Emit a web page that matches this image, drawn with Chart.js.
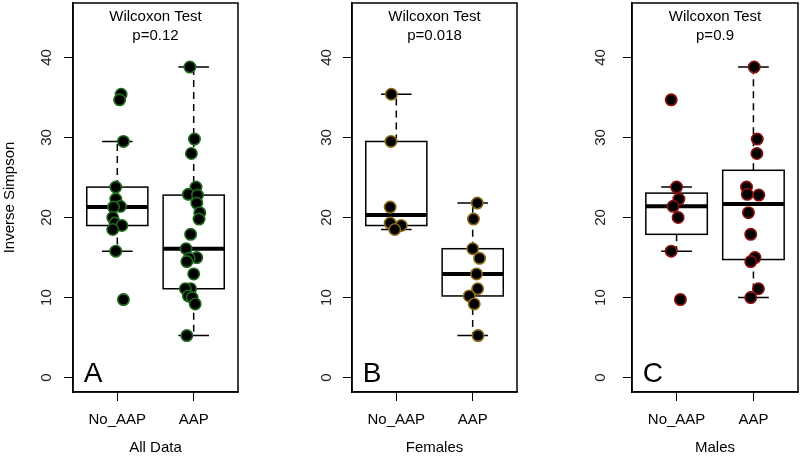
<!DOCTYPE html>
<html>
<head>
<meta charset="utf-8">
<script src="https://cdn.jsdelivr.net/npm/chart.js@4"></script>
<style>
  body { margin: 0; background: #fff; }
  #wrap { position: relative; width: 800px; height: 464px; }
  .panel { position: absolute; top: 0; height: 464px; }
</style>
</head>
<body>
<div id="wrap">
  <div class="panel" style="left:0;width:270px"><canvas id="chartA"></canvas></div>
  <div class="panel" style="left:270px;width:270px"><canvas id="chartB"></canvas></div>
  <div class="panel" style="left:540px;width:260px"><canvas id="chartC"></canvas></div>
</div>
<script>
'use strict';

// categories and labels
const groups = ['No_AAP', 'AAP'];
const panelNames = ['All Data', 'Females', 'Males'];
const panelLetters = ['A', 'B', 'C'];
const pValues = ['p=0.12', 'p=0.018', 'p=0.9'];
const yTicks = [0, 10, 20, 30, 40];

// Inverse Simpson values
const femalesNoAAP = [35.4, 29.5, 21.3, 19.3, 19.0, 18.5];
const femalesAAP = [21.8, 19.8, 16.1, 14.9, 12.95, 11.1, 10.2, 9.2, 5.25];
const malesNoAAP = [34.7, 23.8, 22.3, 21.4, 20.0, 15.8, 9.75];
const malesAAP = [38.8, 29.8, 28.0, 23.8, 22.9, 22.8, 20.6, 17.9, 15.0, 14.5, 11.1, 10.0];
const allNoAAP = [35.4, 34.7, 29.5, 23.8, 22.3, 21.4, 21.3, 20.0, 19.3, 19.0, 18.5, 15.8, 9.75];
const allAAP = [38.8, 29.8, 28.0, 23.8, 22.9, 22.8, 21.8, 20.6, 19.8, 17.9, 16.1, 15.0, 14.9, 14.5, 12.95, 11.1, 11.1, 10.2, 10.0, 9.2, 5.25];

// stripchart jitter (category units), same order as the values
const allNoAAPJitter = [0.05, 0.03, 0.08, -0.02, -0.02, 0.04, -0.05, -0.06, -0.03, 0.06, -0.06, -0.02, 0.08];
const allAAPJitter = [-0.05, 0.01, -0.03, 0.03, -0.07, 0.05, 0.04, 0.08, 0.07, -0.04, -0.1, 0.04, -0.06, -0.09, 0, -0.04, -0.11, -0.07, -0.02, 0.02, -0.09];
const femalesNoAAPJitter = [-0.065, -0.07, -0.08, -0.08, 0.065, -0.02];
const femalesAAPJitter = [0.06, 0.01, 0, 0.09, 0.05, 0.065, -0.045, 0.02, 0.07];
const malesNoAAPJitter = [-0.07, 0, 0.03, -0.045, 0.02, -0.07, 0.05];
const malesAAPJitter = [0.01, 0.05, 0.045, -0.09, -0.08, 0.07, -0.065, -0.035, 0.02, -0.035, 0.065, -0.035];

const FONT = '"Liberation Sans", Arial, Helvetica, sans-serif';

// R style fivenum + Tukey whiskers
function boxStats(values) {
    const s = [...values].sort((a, b) => a - b);
    const n = s.length;
    const n4 = Math.floor((n + 3) / 2) / 2;
    const d = [1, n4, (n + 1) / 2, n + 1 - n4, n];
    const f = d.map(v => 0.5 * (s[Math.floor(v) - 1] + s[Math.ceil(v) - 1]));
    const iqr = f[3] - f[1];
    const inside = s.filter(v => v >= f[1] - 1.5 * iqr && v <= f[3] + 1.5 * iqr);
    return { lo: inside[0], q1: f[1], med: f[2], q3: f[3], hi: inside[inside.length - 1] };
}

const boxPlugin = {
    id: 'boxes',
    beforeDatasetsDraw(chart, args, opts) {
        const ctx = chart.ctx;
        const x = chart.scales.x, y = chart.scales.y;
        const area = chart.chartArea;
        ctx.save();
        ctx.strokeStyle = '#000';
        opts.groups.forEach((vals, i) => {
            const st = boxStats(vals);
            const cx = x.getPixelForValue(i + 1);
            const half = x.getPixelForValue(i + 1.4) - cx;
            const cap = x.getPixelForValue(i + 1.2) - cx;
            // whiskers
            ctx.lineWidth = 1.5;
            ctx.setLineDash([7, 5]);
            ctx.beginPath();
            ctx.moveTo(cx, y.getPixelForValue(st.q3));
            ctx.lineTo(cx, y.getPixelForValue(st.hi));
            ctx.moveTo(cx, y.getPixelForValue(st.q1));
            ctx.lineTo(cx, y.getPixelForValue(st.lo));
            ctx.stroke();
            ctx.setLineDash([]);
            ctx.beginPath();
            ctx.moveTo(cx - cap, y.getPixelForValue(st.hi));
            ctx.lineTo(cx + cap, y.getPixelForValue(st.hi));
            ctx.moveTo(cx - cap, y.getPixelForValue(st.lo));
            ctx.lineTo(cx + cap, y.getPixelForValue(st.lo));
            ctx.stroke();
            // box
            const top = y.getPixelForValue(st.q3), bot = y.getPixelForValue(st.q1);
            ctx.fillStyle = '#fff';
            ctx.fillRect(cx - half, top, 2 * half, bot - top);
            ctx.strokeRect(cx - half, top, 2 * half, bot - top);
            // median
            ctx.lineWidth = 4;
            ctx.beginPath();
            ctx.moveTo(cx - half, y.getPixelForValue(st.med));
            ctx.lineTo(cx + half, y.getPixelForValue(st.med));
            ctx.stroke();
        });
        // frame
        ctx.lineWidth = 1.5;
        ctx.strokeRect(area.left, area.top, area.right - area.left, area.bottom - area.top);
        // texts
        ctx.fillStyle = '#000';
        ctx.textAlign = 'center';
        ctx.textBaseline = 'middle';
        ctx.font = '15px ' + FONT;
        const mid = (area.left + area.right) / 2;
        ctx.fillText('Wilcoxon Test', mid, y.getPixelForValue(45.1));
        ctx.fillText(opts.pValue, mid, y.getPixelForValue(42.7));
        ctx.textAlign = 'left';
        ctx.textBaseline = 'alphabetic';
        ctx.font = '28px ' + FONT;
        ctx.fillText(opts.letter, x.getPixelForValue(0.56), y.getPixelForValue(-0.6));
        ctx.restore();
    }
};

function makePanel(canvasId, idx, noAAP, noAAPJit, aap, aapJit, color, yWidth, rightPad, tickPad) {
    const toPoints = (vals, jit, g) => vals.map((v, i) => ({ x: g + jit[i], y: v }));
    const pointStyle = {
        pointRadius: 5.7,
        pointHoverRadius: 5.7,
        pointBackgroundColor: '#000',
        pointBorderColor: color,
        pointBorderWidth: 1.6,
        showLine: false
    };
    const config = {
        type: 'scatter',
        data: {
            datasets: [
                Object.assign({ label: groups[0], data: toPoints(noAAP, noAAPJit, 1) }, pointStyle),
                Object.assign({ label: groups[1], data: toPoints(aap, aapJit, 2) }, pointStyle)
            ]
        },
        options: {
            responsive: true,
            maintainAspectRatio: false,
            animation: false,
            events: [],
            layout: { autoPadding: false, padding: { top: 3, right: rightPad, bottom: 0, left: 0 } },
            plugins: {
                legend: { display: false },
                tooltip: { enabled: false },
                boxes: { groups: [noAAP, aap], pValue: pValues[idx], letter: panelLetters[idx] }
            },
            scales: {
                x: {
                    type: 'linear',
                    min: 0.42,
                    max: 2.58,
                    afterBuildTicks: s => { s.ticks = [{ value: 1 }, { value: 2 }]; },
                    afterFit: s => { s.height = 72; s.paddingLeft = 0; s.paddingRight = 0; },
                    grid: { drawOnChartArea: false, drawTicks: true, tickLength: 9, color: '#000', lineWidth: 1 },
                    border: { display: true, color: '#000', width: 1.5 },
                    ticks: {
                        callback: v => groups[v - 1],
                        color: '#000',
                        padding: 10,
                        maxRotation: 0,
                        font: { family: FONT, size: 15 }
                    },
                    title: {
                        display: true,
                        text: panelNames[idx],
                        color: '#000',
                        padding: { top: 0, bottom: 7.5 },
                        font: { family: FONT, size: 15 }
                    }
                },
                y: {
                    min: -1.8,
                    max: 46.8,
                    afterBuildTicks: s => { s.ticks = yTicks.map(v => ({ value: v })); },
                    afterFit: s => { s.width = yWidth; s.paddingTop = 0; s.paddingBottom = 0; },
                    grid: { drawOnChartArea: false, drawTicks: true, tickLength: 9, color: '#000', lineWidth: 1 },
                    border: { display: true, color: '#000', width: 1.5 },
                    ticks: {
                        color: '#222',
                        minRotation: 90,
                        maxRotation: 90,
                        crossAlign: 'center',
                        padding: tickPad,
                        font: { family: FONT, size: 15 }
                    },
                    title: {
                        display: idx === 0,
                        text: 'Inverse Simpson',
                        color: '#000',
                        padding: { top: 1, bottom: 0 },
                        font: { family: FONT, size: 15 }
                    }
                }
            }
        },
        plugins: [boxPlugin]
    };
    return new Chart(document.getElementById(canvasId), config);
}

makePanel('chartA', 0, allNoAAP, allNoAAPJitter, allAAP, allAAPJitter, '#1e6b1e', 73, 32, 9);
makePanel('chartB', 1, femalesNoAAP, femalesNoAAPJitter, femalesAAP, femalesAAPJitter, '#8b6a14', 82, 23, 8);
makePanel('chartC', 2, malesNoAAP, malesNoAAPJitter, malesAAP, malesAAPJitter, '#8b1010', 92, 2, 14);
</script>
</body>
</html>
